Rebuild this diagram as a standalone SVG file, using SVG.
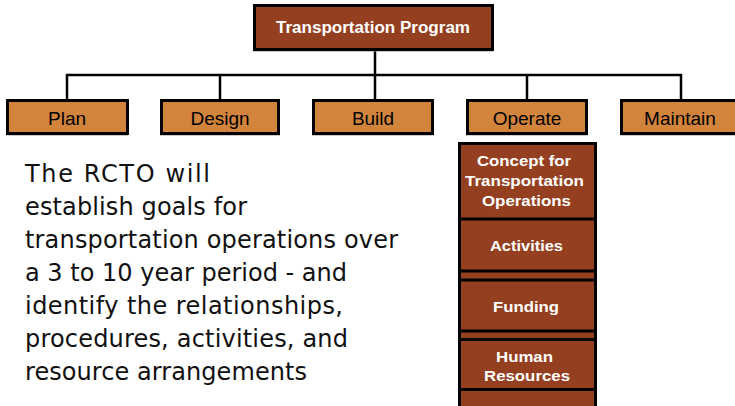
<svg xmlns="http://www.w3.org/2000/svg" width="735" height="406" viewBox="0 0 735 406">
<style>
.shadow{fill:#9a9a9a}
.top{fill:#933F20;stroke:#000;stroke-width:3}
.ph{fill:#D2843D;stroke:#000;stroke-width:3}
.col{fill:#933F20;stroke:#000;stroke-width:3}
.sep{stroke:#000;stroke-width:3}
.conn{stroke:#000;stroke-width:2.5;fill:none}
.wb{font-family:"Liberation Sans",Arial,sans-serif;font-weight:bold;fill:#fff;text-anchor:middle}
.lbl{font-family:"Liberation Sans",Arial,sans-serif;font-size:19px;fill:#000;text-anchor:middle}
.body{font-family:"DejaVu Sans",sans-serif;font-size:24px;fill:#111}
</style>
<rect width="735" height="406" fill="#fff"/>
<g id="connectors">
<line class="conn" x1="375" y1="50" x2="375" y2="100"/>
<polyline class="conn" points="67,100 67,75 681,75 681,100"/>
<line class="conn" x1="220" y1="75" x2="220" y2="100"/>
<line class="conn" x1="527" y1="75" x2="527" y2="100"/>
</g>
<g id="transportation-program">
<rect class="shadow" x="253" y="6" width="240" height="45.5"/>
<rect class="top" x="254.5" y="5.5" width="238" height="44"/>
<text class="wb" x="373" y="33" font-size="16" textLength="194" lengthAdjust="spacingAndGlyphs">Transportation Program</text>
</g>
<g id="plan">
<rect class="shadow" x="6" y="101" width="122" height="34.5"/>
<rect class="ph" x="7.5" y="100.5" width="120" height="33"/>
<text class="lbl" x="67" y="124.5">Plan</text>
</g>
<g id="design">
<rect class="shadow" x="160" y="101" width="120" height="34.5"/>
<rect class="ph" x="161.5" y="100.5" width="117" height="33"/>
<text class="lbl" x="220" y="124.5">Design</text>
</g>
<g id="build">
<rect class="shadow" x="312" y="101" width="122" height="34.5"/>
<rect class="ph" x="313.5" y="100.5" width="119" height="33"/>
<text class="lbl" x="373" y="124.5">Build</text>
</g>
<g id="operate">
<rect class="shadow" x="466" y="101" width="122" height="34.5"/>
<rect class="ph" x="467.5" y="100.5" width="119" height="33"/>
<text class="lbl" x="527" y="124.5">Operate</text>
</g>
<g id="maintain">
<rect class="shadow" x="620" y="101" width="122" height="34.5"/>
<rect class="ph" x="621.5" y="100.5" width="119" height="33"/>
<text class="lbl" x="680" y="124.5">Maintain</text>
</g>
<g id="operate-column">
<rect class="col" x="459.5" y="143.5" width="136" height="280"/>
<line class="sep" x1="459" y1="219" x2="596" y2="219"/>
<line class="sep" x1="459" y1="271" x2="596" y2="271"/>
<line class="sep" x1="459" y1="280" x2="596" y2="280"/>
<line class="sep" x1="459" y1="331" x2="596" y2="331"/>
<line class="sep" x1="459" y1="339.5" x2="596" y2="339.5"/>
<line class="sep" x1="459" y1="389.5" x2="596" y2="389.5"/>
</g>
<g id="concept">
<text class="wb" x="524" y="166" font-size="15" textLength="94" lengthAdjust="spacingAndGlyphs">Concept for</text>
<text class="wb" x="524.5" y="186" font-size="15" textLength="119" lengthAdjust="spacingAndGlyphs">Transportation</text>
<text class="wb" x="526.5" y="206" font-size="15" textLength="89" lengthAdjust="spacingAndGlyphs">Operations</text>
</g>
<g id="activities">
<text class="wb" x="526.5" y="250.5" font-size="15" textLength="73" lengthAdjust="spacingAndGlyphs">Activities</text>
</g>
<g id="funding">
<text class="wb" x="526" y="311.5" font-size="15" textLength="66" lengthAdjust="spacingAndGlyphs">Funding</text>
</g>
<g id="human-resources">
<text class="wb" x="524.5" y="361.5" font-size="15" textLength="57" lengthAdjust="spacingAndGlyphs">Human</text>
<text class="wb" x="527" y="380.5" font-size="15" textLength="86" lengthAdjust="spacingAndGlyphs">Resources</text>
</g>
<g id="description">
<text class="body" x="25" y="182" textLength="185">The RCTO will</text>
<text class="body" x="25" y="215" textLength="222">establish goals for</text>
<text class="body" x="25" y="248" textLength="373">transportation operations over</text>
<text class="body" x="25" y="281" textLength="322">a 3 to 10 year period - and</text>
<text class="body" x="25" y="314" textLength="318">identify the relationships,</text>
<text class="body" x="25" y="347" textLength="323">procedures, activities, and</text>
<text class="body" x="25" y="380" textLength="282">resource arrangements</text>
</g>
</svg>
